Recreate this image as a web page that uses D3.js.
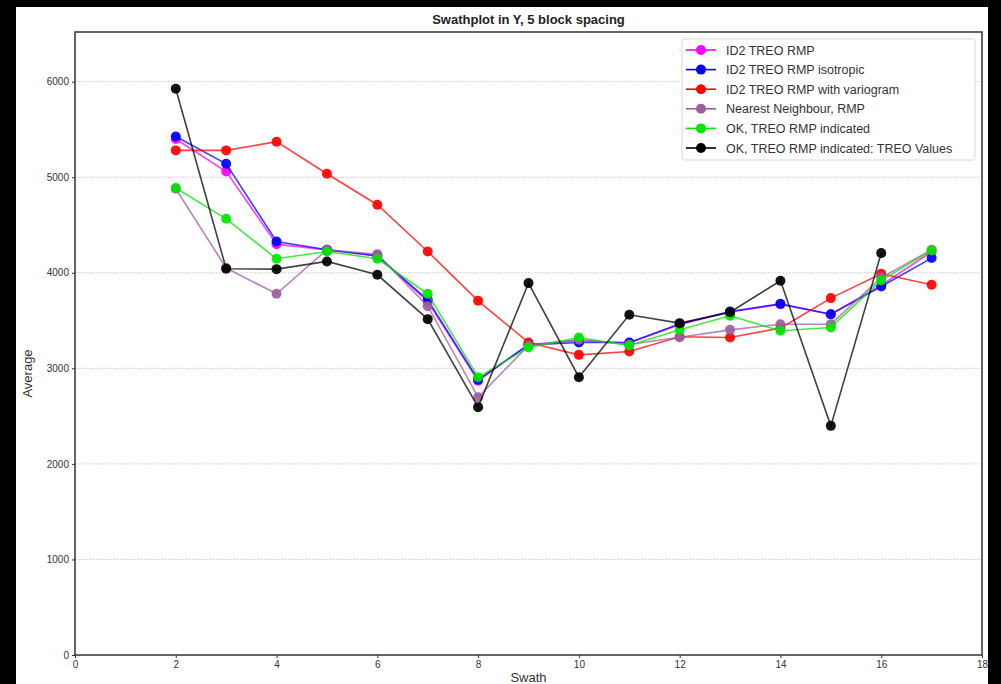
<!DOCTYPE html>
<html>
<head>
<meta charset="utf-8">
<script src="https://cdn.jsdelivr.net/npm/d3@7"></script>
<style>
  body { margin: 0; background: #000; }
  svg { display: block; }
</style>
</head>
<body>
<svg id="chart" width="1001" height="684"></svg>
<script>
// swath numbers and averages
const swaths = [2, 3, 4, 5, 6, 7, 8, 9, 10, 11, 12, 13, 14, 15, 16, 17];
const id2Rmp = [5400, 5060, 4300, 4240, 4180, 3700, 2870, 3250, 3290, 3265, 3460, 3590, 3670, 3565, 3870, 4220];
const id2Iso = [5427, 5141, 4328, 4241, 4175, 3717, 2880, 3246, 3270, 3270, 3465, 3595, 3675, 3567, 3857, 4154];
const id2Vario = [5281, 5281, 5372, 5037, 4712, 4223, 3707, 3270, 3141, 3176, 3330, 3323, 3421, 3735, 3990, 3874];
const nearest = [4880, 4050, 3780, 4241, 4195, 3650, 2698, 3240, 3300, 3250, 3326, 3403, 3462, 3462, 3950, 4240];
const okInd = [4887, 4565, 4147, 4223, 4147, 3780, 2907, 3218, 3323, 3239, 3403, 3550, 3393, 3428, 3920, 4234];
const okTreo = [5927, 4042, 4038, 4119, 3979, 3515, 2594, 3892, 2907, 3560, 3473, 3588, 3916, 2398, 4206];

const seriesNames = [
  "ID2 TREO RMP",
  "ID2 TREO RMP isotropic",
  "ID2 TREO RMP with variogram",
  "Nearest Neighbour, RMP",
  "OK, TREO RMP indicated",
  "OK, TREO RMP indicated: TREO Values"
];
const seriesValues = [id2Rmp, id2Iso, id2Vario, nearest, okInd, okTreo];
const seriesColors = ["#ff00ff", "#0000ff", "#ff0000", "#9b5fa0", "#00e600", "#000000"];

const xTicks = [0, 2, 4, 6, 8, 10, 12, 14, 16, 18];
const yTicks = [0, 1000, 2000, 3000, 4000, 5000, 6000];

const svg = d3.select("#chart");

// white page inside the black frame
svg.append("rect")
  .attr("x", 16).attr("y", 7)
  .attr("width", 972).attr("height", 684)
  .attr("fill", "#fff");

const margins = { top: 32, right: 19, bottom: 29, left: 75 };
const width = 1001 - margins.left - margins.right;
const height = 684 - margins.top - margins.bottom;

const g = svg.append("g")
  .attr("transform", `translate(${margins.left},${margins.top})`);

const x = d3.scaleLinear().domain([0, 18]).range([0, width]);
const y = d3.scaleLinear().domain([0, 6520]).range([height, 0]);

// dotted horizontal grid
g.selectAll(".grid")
  .data(yTicks.filter(d => d > 0))
  .enter()
  .append("line")
  .attr("x1", 0)
  .attr("x2", width)
  .attr("y1", d => y(d))
  .attr("y2", d => y(d))
  .attr("stroke", "#c8c8c8")
  .attr("stroke-width", 1)
  .attr("stroke-dasharray", "1.5,1.5");

// axes
const xAxis = g.append("g")
  .attr("transform", `translate(0,${height})`)
  .call(d3.axisBottom(x).tickValues(xTicks).tickFormat(d3.format("d")).tickSize(3).tickPadding(3));
const yAxis = g.append("g")
  .call(d3.axisLeft(y).tickValues(yTicks).tickFormat(d3.format("d")).tickSize(3).tickPadding(3));

[xAxis, yAxis].forEach(a => {
  a.select(".domain").remove();
  a.selectAll("text")
    .attr("font-family", "Liberation Sans, Arial, sans-serif")
    .attr("font-size", "10px")
    .attr("fill", "#333");
  a.selectAll("line").attr("stroke", "#333");
});

// plot frame
g.append("rect")
  .attr("width", width)
  .attr("height", height)
  .attr("fill", "none")
  .attr("stroke", "#333")
  .attr("stroke-width", 1.5);

// lines and markers
const line = d3.line()
  .x((d, i) => x(swaths[i]))
  .y(d => y(d));

seriesValues.forEach((vals, s) => {
  const grp = g.append("g");
  grp.append("path")
    .datum(vals)
    .attr("d", line)
    .attr("fill", "none")
    .attr("stroke", seriesColors[s])
    .attr("stroke-opacity", 0.75)
    .attr("stroke-width", 1.6);
  grp.selectAll("circle")
    .data(vals)
    .enter()
    .append("circle")
    .attr("cx", (d, i) => x(swaths[i]))
    .attr("cy", d => y(d))
    .attr("r", 5)
    .attr("fill", seriesColors[s])
    .attr("fill-opacity", 0.92);
});

// title
svg.append("text")
  .attr("x", margins.left + width / 2)
  .attr("y", 24)
  .attr("text-anchor", "middle")
  .attr("font-family", "Liberation Sans, Arial, sans-serif")
  .attr("font-weight", "bold")
  .attr("font-size", "13px")
  .attr("fill", "#222")
  .text("Swathplot in Y, 5 block spacing");

// axis titles
svg.append("text")
  .attr("x", margins.left + width / 2)
  .attr("y", 682)
  .attr("text-anchor", "middle")
  .attr("font-family", "Liberation Sans, Arial, sans-serif")
  .attr("font-size", "13px")
  .attr("fill", "#333")
  .text("Swath");

svg.append("text")
  .attr("transform", `translate(32,${margins.top + height / 2 + 30}) rotate(-90)`)
  .attr("text-anchor", "middle")
  .attr("font-family", "Liberation Sans, Arial, sans-serif")
  .attr("font-size", "13px")
  .attr("fill", "#333")
  .text("Average");

// legend
const legend = svg.append("g").attr("transform", "translate(682,39)");
legend.append("rect")
  .attr("width", 293)
  .attr("height", 121)
  .attr("rx", 2)
  .attr("fill", "#fff")
  .attr("stroke", "#d8d8d8");

const items = legend.selectAll(".legend")
  .data(seriesNames)
  .enter()
  .append("g")
  .attr("class", "legend")
  .attr("transform", (d, i) => `translate(0,${11 + i * 19.6})`);

items.append("line")
  .attr("x1", 4).attr("x2", 34)
  .attr("stroke", (d, i) => seriesColors[i])
  .attr("stroke-width", 1.6);
items.append("circle")
  .attr("cx", 19)
  .attr("r", 5)
  .attr("fill", (d, i) => seriesColors[i]);
items.append("text")
  .attr("x", 44)
  .attr("y", 4.5)
  .attr("font-family", "Liberation Sans, Arial, sans-serif")
  .attr("font-size", "12.5px")
  .attr("fill", "#333")
  .text(d => d);
</script>
</body>
</html>
